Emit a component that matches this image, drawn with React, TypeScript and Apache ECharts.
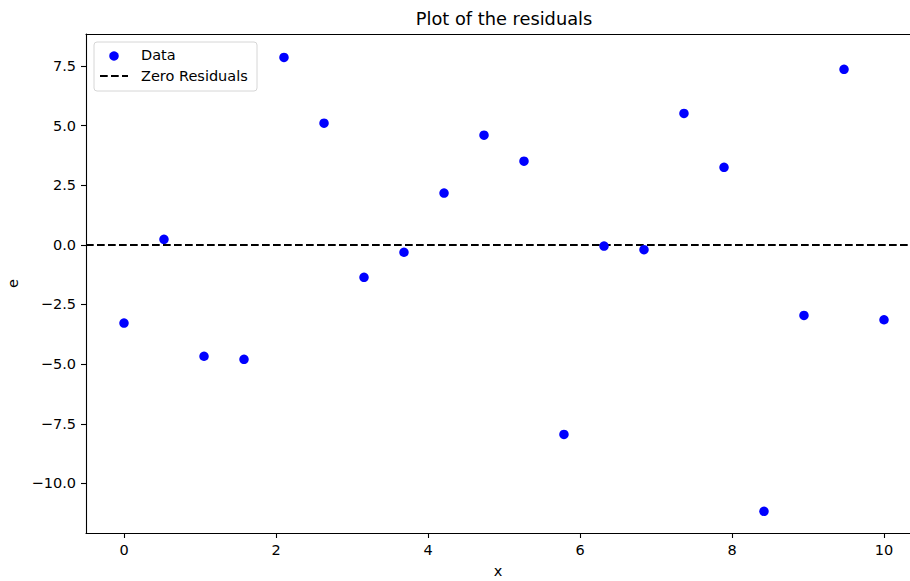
import React, { useEffect, useRef } from "react";
import * as echarts from "echarts";

const xValues = [0, 0.526, 1.053, 1.579, 2.105, 2.632, 3.158, 3.684, 4.211, 4.737, 5.263, 5.789, 6.316, 6.842, 7.368, 7.895, 8.421, 8.947, 9.474, 10];
const residuals = [-3.28, 0.23, -4.67, -4.8, 7.86, 5.1, -1.36, -0.31, 2.17, 4.6, 3.51, -7.95, -0.05, -0.2, 5.51, 3.25, -11.17, -2.96, 7.36, -3.14];
const xTicks = [0, 2, 4, 6, 8, 10];
const yTicks = [-10, -7.5, -5, -2.5, 0, 2.5, 5, 7.5];
const zeroLevel = 0;
const titleText = "Plot of the residuals";
const legendLabels = ["Data", "Zero Residuals"];

const FONT = "DejaVu Sans";
const FS = 14.5;

export default function App() {
  const ref = useRef<HTMLDivElement>(null);
  useEffect(() => {
    document.body.style.margin = "0";
    const chart = echarts.init(ref.current!, null, { renderer: "svg" });
    const fmtY = (v: number) => (v < 0 ? "\u2212" : "") + Math.abs(v).toFixed(1);
    const spine = { color: "#000", width: 1.1 };
    chart.setOption({
      animation: false,
      backgroundColor: "#ffffff",
      grid: { left: 86, top: 34, right: 0, bottom: 48, containLabel: false, outerBoundsMode: "none" },
      xAxis: [
        {
          type: "value",
          min: -0.5,
          max: 10.342,
          name: "x",
          nameLocation: "middle",
          nameGap: 30,
          nameTextStyle: { fontFamily: FONT, fontSize: FS, color: "#000" },
          axisLine: { show: true, onZero: false, lineStyle: spine },
          axisTick: { show: true, length: 5, lineStyle: spine, customValues: xTicks },
          axisLabel: { fontFamily: FONT, fontSize: FS, color: "#000", margin: 9, customValues: xTicks, formatter: (v: number) => String(v) },
          splitLine: { show: false },
        },
        {
          type: "value",
          position: "top",
          min: -0.5,
          max: 10.342,
          axisLine: { show: true, onZero: false, lineStyle: spine },
          axisTick: { show: false },
          axisLabel: { show: false },
          splitLine: { show: false },
        },
      ],
      yAxis: {
        type: "value",
        min: -12.08,
        max: 8.84,
        name: "e",
        nameLocation: "middle",
        nameGap: 65,
        nameTextStyle: { fontFamily: FONT, fontSize: FS, color: "#000" },
        axisLine: { show: true, onZero: false, lineStyle: spine },
        axisTick: { show: true, length: 5, lineStyle: spine, customValues: yTicks },
        axisLabel: { fontFamily: FONT, fontSize: FS, color: "#000", margin: 10, customValues: yTicks, formatter: fmtY },
        splitLine: { show: false },
      },
      series: [
        {
          type: "scatter",
          name: legendLabels[0],
          xAxisIndex: 0,
          data: xValues.map((x, i) => [x, residuals[i]]),
          symbol: "circle",
          symbolSize: 9.5,
          itemStyle: { color: "#0000ff", opacity: 1 },
          z: 3,
          markLine: {
            silent: true,
            symbol: "none",
            label: { show: false },
            lineStyle: { color: "#000", width: 2, type: [7.7, 3.3] },
            data: [{ yAxis: zeroLevel }],
            z: 2,
          },
        },
      ],
      graphic: [
        {
          type: "text",
          x: 504,
          y: 18,
          style: { text: titleText, fontFamily: FONT, fontSize: 17.8, fill: "#000", textAlign: "center", textVerticalAlign: "middle" },
        },
        {
          type: "group",
          x: 94,
          y: 42,
          z: 100,
          children: [
            { type: "rect", shape: { x: 0, y: 0, width: 163, height: 49, r: 3 }, style: { fill: "rgba(255,255,255,0.8)", stroke: "#d6d6d6", lineWidth: 1 } },
            { type: "circle", shape: { cx: 20, cy: 14, r: 4.75 }, style: { fill: "#0000ff" } },
            { type: "text", x: 47, y: 13, style: { text: legendLabels[0], fontFamily: FONT, fontSize: FS, fill: "#000", textVerticalAlign: "middle" } },
            { type: "line", shape: { x1: 6, y1: 34, x2: 34, y2: 34 }, style: { stroke: "#000", lineWidth: 2, lineDash: [7.7, 3.3] } },
            { type: "text", x: 47, y: 34, style: { text: legendLabels[1], fontFamily: FONT, fontSize: FS, fill: "#000", textVerticalAlign: "middle" } },
          ],
        },
      ],
    });
    return () => chart.dispose();
  }, []);
  return <div ref={ref} style={{ width: 910, height: 581 }} />;
}
